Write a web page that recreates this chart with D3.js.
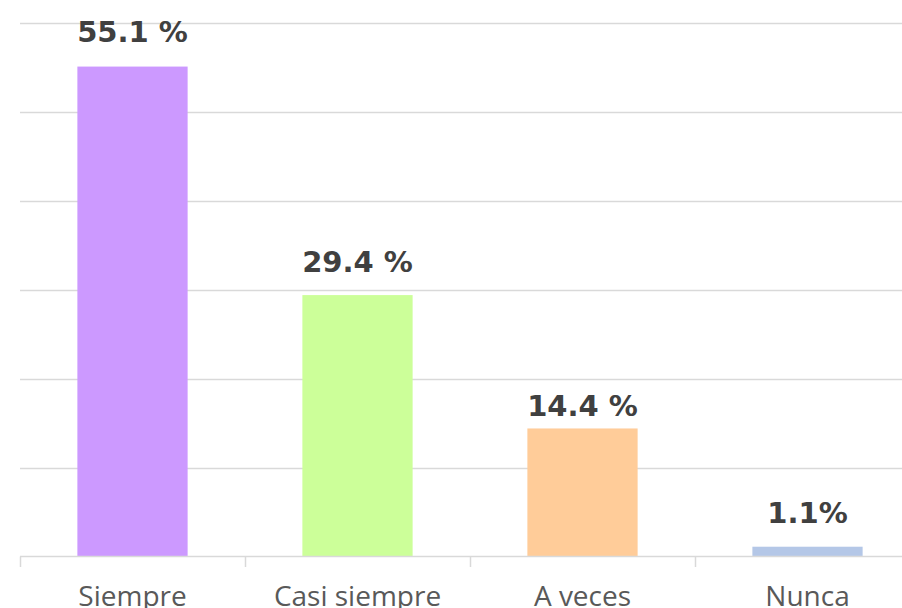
<!DOCTYPE html>
<html>
<head>
<meta charset="utf-8">
<script src="https://cdn.jsdelivr.net/npm/d3@7"></script>
<style>
  html, body { margin: 0; padding: 0; background: #ffffff; }
  svg { display: block; }
</style>
</head>
<body>
<svg id="chart" width="902" height="608"></svg>
<script>
// Survey answers and their share of respondents (%)
const categories = ["Siempre", "Casi siempre", "A veces", "Nunca"];
const values = [55.1, 29.4, 14.4, 1.1];
const valueLabels = ["55.1 %", "29.4 %", "14.4 %", "1.1%"];
const colors = ["#cc99ff", "#ccff99", "#ffcc99", "#b4c7e7"];
const yTicks = [0, 10, 20, 30, 40, 50, 60];

// Layout
const width = 902, height = 608;
const plotLeft = 20, plotRight = 920;      // last category band runs past the right edge
const plotTop = 23, plotBottom = 556.5;
const labelLift = [25, 23, 12, 24];        // gap between bar top and its value label

const svg = d3.select("#chart");

const x = d3.scaleBand()
  .domain(categories)
  .range([plotLeft, plotRight])
  .paddingInner(0.51)
  .paddingOuter(0.255);

const y = d3.scaleLinear()
  .domain([0, 60])
  .range([plotBottom, plotTop]);

// Horizontal gridlines
svg.append("g")
  .selectAll("line")
  .data(yTicks.filter(d => d > 0))
  .join("line")
  .attr("x1", plotLeft)
  .attr("x2", width)
  .attr("y1", d => Math.round(y(d)) + 0.5)
  .attr("y2", d => Math.round(y(d)) + 0.5)
  .attr("stroke", "#d9d9d9")
  .attr("stroke-width", 1.5);

// Bars
svg.append("g")
  .selectAll("rect")
  .data(values)
  .join("rect")
  .attr("x", (d, i) => x(categories[i]))
  .attr("y", d => y(d))
  .attr("width", x.bandwidth())
  .attr("height", d => y(0) - y(d))
  .attr("fill", (d, i) => colors[i]);

// Category axis: baseline with tick marks at band boundaries
const xAxis = svg.append("g");
xAxis.append("line")
  .attr("x1", plotLeft)
  .attr("x2", width)
  .attr("y1", plotBottom)
  .attr("y2", plotBottom)
  .attr("stroke", "#d9d9d9")
  .attr("stroke-width", 1.5);

const boundaries = categories.map(c => x(c) - x.step() * x.paddingInner() / 2)
  .map((v, i) => i === 0 ? plotLeft : v);
xAxis.selectAll("line.tick")
  .data(boundaries)
  .join("line")
  .attr("class", "tick")
  .attr("x1", d => Math.round(d) + 0.5)
  .attr("x2", d => Math.round(d) + 0.5)
  .attr("y1", plotBottom)
  .attr("y2", plotBottom + 10.5)
  .attr("stroke", "#d9d9d9")
  .attr("stroke-width", 1.5);

xAxis.selectAll("text")
  .data(categories)
  .join("text")
  .attr("x", d => x(d) + x.bandwidth() / 2)
  .attr("y", 606)
  .attr("text-anchor", "middle")
  .attr("font-family", "'Open Sans', 'Noto Sans', sans-serif")
  .attr("font-size", 28)
  .attr("fill", "#595959")
  .text(d => d);

// Value labels above bars
svg.append("g")
  .selectAll("text")
  .data(values)
  .join("text")
  .attr("x", (d, i) => x(categories[i]) + x.bandwidth() / 2)
  .attr("y", (d, i) => y(d) - labelLift[i])
  .attr("text-anchor", "middle")
  .attr("font-family", "'DejaVu Sans', sans-serif")
  .attr("font-weight", "bold")
  .attr("font-size", 29)
  .attr("fill", "#404040")
  .text((d, i) => valueLabels[i]);
</script>
</body>
</html>
